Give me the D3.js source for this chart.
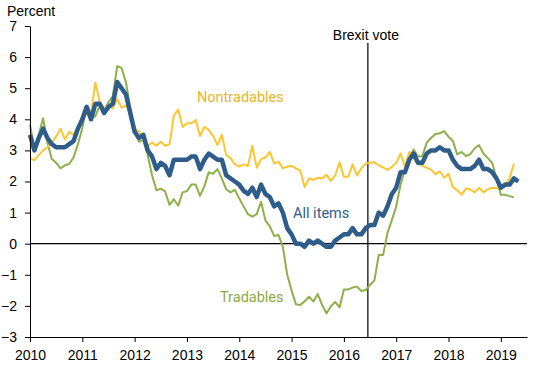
<!DOCTYPE html>
<html>
<head>
<meta charset="utf-8">
<script src="https://cdn.jsdelivr.net/npm/d3@7"></script>
<style>
  html, body { margin: 0; padding: 0; background: #fff; }
  svg { display: block; }
  .axis text { font-family: "Liberation Sans", Arial, sans-serif; font-size: 14px; fill: #000; }
  .axis path, .axis line { stroke: #000; stroke-width: 1; }
</style>
</head>
<body>
<svg id="chart" width="550" height="365"></svg>
<script>
// ---- Data (monthly, Jan 2010 onward) ----
const startYear = 2010;
const allItems = [
  3.5, 3.0, 3.4, 3.7, 3.4, 3.2, 3.1, 3.1, 3.1, 3.2, 3.3, 3.7,
  4.0, 4.4, 4.0, 4.5, 4.5, 4.2, 4.4, 4.5, 5.2, 5.0, 4.8, 4.2,
  3.6, 3.4, 3.5, 3.0, 2.8, 2.4, 2.6, 2.5, 2.2, 2.7, 2.7, 2.7,
  2.7, 2.8, 2.8, 2.4, 2.7, 2.9, 2.8, 2.7, 2.7, 2.2, 2.1, 2.0,
  1.9, 1.7, 1.6, 1.8, 1.5, 1.9, 1.6, 1.5, 1.2, 1.3, 1.0, 0.5,
  0.3, 0.0, 0.0, -0.1, 0.1, 0.0, 0.1, 0.0, -0.1, -0.1, 0.1, 0.2,
  0.3, 0.3, 0.5, 0.3, 0.3, 0.5, 0.6, 0.6, 1.0, 0.9, 1.2, 1.6,
  1.8, 2.3, 2.3, 2.7, 2.9, 2.6, 2.6, 2.9, 3.0, 3.0, 3.1, 3.0,
  3.0, 2.7, 2.5, 2.4, 2.4, 2.4, 2.5, 2.7, 2.4, 2.4, 2.3, 2.1,
  1.8, 1.9, 1.9, 2.1, 2.0
];
const nontradables = [
  2.75, 2.68, 2.85, 3.0, 3.1, 3.25, 3.45, 3.7, 3.35, 3.6, 3.5, 3.75,
  4.05, 4.15, 4.2, 5.18, 4.55, 4.35, 4.45, 4.35, 4.65, 4.38, 4.45, 4.2,
  3.7, 3.6, 3.44, 3.15, 3.25, 3.15, 3.28, 3.15, 3.2, 4.12, 4.32, 3.75,
  3.87, 3.87, 3.98, 3.46, 3.76, 3.66, 3.46, 3.17, 3.5, 2.85, 2.75, 2.55,
  2.48, 2.55, 2.5, 3.15, 2.44, 2.72, 2.77, 2.95, 2.58, 2.64, 2.42, 2.48,
  2.5, 2.42, 2.35, 1.82, 2.1, 2.05, 2.12, 2.1, 2.22, 2.02, 2.2, 2.62,
  2.15, 2.15, 2.55, 2.19, 2.42, 2.58, 2.6, 2.62, 2.52, 2.45, 2.37, 2.47,
  2.6, 2.9, 2.48, 2.95, 2.74, 2.6, 2.5, 2.44, 2.38, 2.23, 2.33, 2.12,
  2.25, 1.82, 1.72, 1.58, 1.78, 1.74, 1.65, 1.8, 1.65, 1.75, 1.8, 1.78,
  1.82, 1.9, 2.1, 2.58
];
const tradables = [
  3.82, 3.05, 3.5, 4.03, 3.25, 2.72, 2.6, 2.42, 2.52, 2.56, 2.78, 3.2,
  3.72, 4.42, 4.05, 4.1, 4.45, 4.3, 4.55, 4.75, 5.71, 5.65, 5.2, 4.35,
  3.6, 3.28, 3.33, 2.85, 2.2, 1.72, 1.77, 1.68, 1.25, 1.43, 1.22, 1.65,
  1.69, 1.9, 1.9, 1.54, 1.85, 2.3, 2.25, 2.4, 2.1, 1.75, 1.65, 1.73,
  1.45, 1.2, 0.95, 0.87, 0.95, 1.35, 0.75, 0.56, 0.25, 0.28, -0.1, -1.0,
  -1.5, -1.95, -1.97, -1.85, -1.7, -1.86, -1.62, -1.97, -2.24, -2.02, -1.87, -2.05,
  -1.47, -1.47, -1.41, -1.38, -1.52, -1.49, -1.32, -1.18, -0.36, -0.36, 0.35, 0.76,
  1.2, 1.9, 2.38, 2.75, 3.03, 2.8, 2.82, 3.25, 3.4, 3.53, 3.55, 3.62,
  3.44, 3.3, 2.87, 2.95, 2.82, 2.88, 3.07, 3.17, 2.9, 2.75, 2.6, 2.1,
  1.57, 1.57, 1.53, 1.49
];
const xTicks = [2010, 2011, 2012, 2013, 2014, 2015, 2016, 2017, 2018, 2019];
const yTicks = [-3, -2, -1, 0, 1, 2, 3, 4, 5, 6, 7];
const brexitDate = 2016 + 5.5 / 12;

// ---- Chart ----
const svg = d3.select("#chart");
const x = d3.scaleLinear().domain([2010, 2019.5]).range([30, 527]);
const y = d3.scaleLinear().domain([-3, 7]).range([337, 26]);

const toPts = arr => arr.map((v, i) => ({ t: startYear + i / 12, v }));
const line = d3.line().x(d => x(d.t)).y(d => y(d.v));

// zero line
svg.append("line")
  .attr("x1", x(2010)).attr("x2", x(2019.5))
  .attr("y1", y(0)).attr("y2", y(0))
  .attr("stroke", "#000").attr("stroke-width", 1.2);

// Brexit line
svg.append("line")
  .attr("x1", x(brexitDate)).attr("x2", x(brexitDate))
  .attr("y1", 43).attr("y2", y(-3))
  .attr("stroke", "#000").attr("stroke-width", 1.2);
svg.append("text")
  .attr("x", x(brexitDate) - 2).attr("y", 40)
  .attr("text-anchor", "middle")
  .style("font-family", "'Liberation Sans', Arial, sans-serif")
  .style("font-size", "14px")
  .text("Brexit vote");

// series
svg.append("path").datum(toPts(tradables))
  .attr("d", line).attr("fill", "none")
  .attr("stroke", "#8db04a").attr("stroke-width", 2).attr("stroke-linejoin", "round");
svg.append("path").datum(toPts(nontradables))
  .attr("d", line).attr("fill", "none")
  .attr("stroke", "#fdc52f").attr("stroke-width", 2).attr("stroke-linejoin", "round");
svg.append("path").datum(toPts(allItems))
  .attr("d", line).attr("fill", "none")
  .attr("stroke", "#2e5d8b").attr("stroke-width", 4.5).attr("stroke-linejoin", "round");

// series labels
const lab = (txt, xx, yy, col) => svg.append("text")
  .attr("x", xx).attr("y", yy)
  .style("font-family", "Roboto, 'Liberation Sans', sans-serif")
  .style("font-size", "14.5px")
  .attr("fill", col).text(txt);
lab("Nontradables", 197, 101.5, "#e9b52a");
lab("All items", 293, 217.5, "#2e5d8b");
lab("Tradables", 220, 302, "#8aab47");

// axes
svg.append("g").attr("class", "axis")
  .attr("transform", `translate(${x(2010)},0)`)
  .call(d3.axisLeft(y).tickValues(yTicks).tickFormat(d3.format("d"))
    .tickSize(5).tickSizeOuter(0).tickPadding(8));

svg.append("g").attr("class", "axis")
  .attr("transform", `translate(0,${y(-3)})`)
  .call(d3.axisBottom(x).tickValues(xTicks).tickFormat(d3.format("d"))
    .tickSize(5).tickSizeOuter(0).tickPadding(8));

svg.append("text")
  .attr("x", 7).attr("y", 16)
  .style("font-family", "'Liberation Sans', Arial, sans-serif")
  .style("font-size", "14px")
  .text("Percent");
</script>
</body>
</html>
